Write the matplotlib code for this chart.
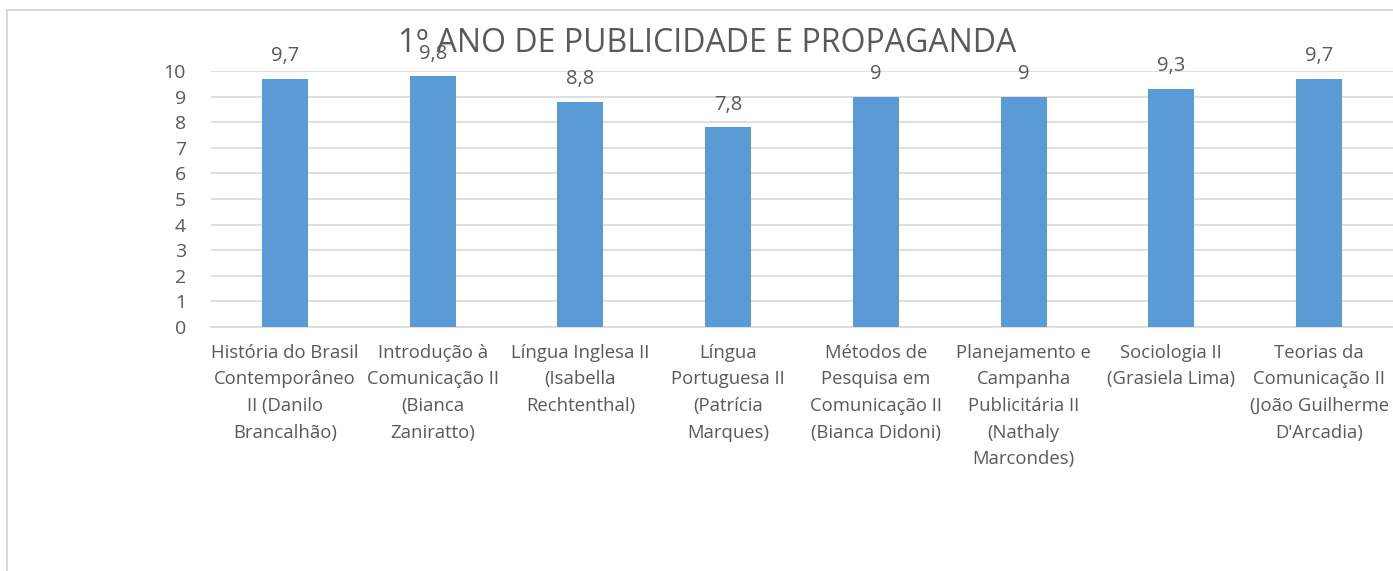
import numpy as np
import matplotlib.pyplot as plt
from matplotlib.patches import Rectangle

plt.rcParams['font.family'] = ['Open Sans', 'DejaVu Sans']

disciplinas = [
    'História do Brasil\nContemporâneo\nII (Danilo\nBrancalhão)',
    'Introdução à\nComunicação II\n(Bianca\nZaniratto)',
    'Língua Inglesa II\n(Isabella\nRechtenthal)',
    'Língua\nPortuguesa II\n(Patrícia\nMarques)',
    'Métodos de\nPesquisa em\nComunicação II\n(Bianca Didoni)',
    'Planejamento e\nCampanha\nPublicitária II\n(Nathaly\nMarcondes)',
    'Sociologia II\n(Grasiela Lima)',
    'Teorias da\nComunicação II\n(João Guilherme\nD\'Arcadia)',
]
notas = [9.7, 9.8, 8.8, 7.8, 9, 9, 9.3, 9.7]
rotulos = ['9,7', '9,8', '8,8', '7,8', '9', '9', '9,3', '9,7']

cinza = '#595959'
fig = plt.figure(figsize=(13.93, 5.71), dpi=100)
ax = fig.add_axes([211 / 1393, 1 - 327 / 571, (1393 - 211) / 1393, (327 - 71) / 571])

x = np.arange(len(notas))
ax.bar(x, notas, width=0.31, color='#5B9BD5', zorder=3)
for xi, v, t in zip(x, notas, rotulos):
    ax.annotate(t, (xi, v), xytext=(0, 9), textcoords='offset points',
                ha='center', va='bottom', fontsize=14.5, color=cinza)

ax.set_xlim(-0.5, len(notas) - 0.5)
ax.set_ylim(0, 10)
ax.set_yticks(range(0, 11))
ax.yaxis.grid(True, color='#D9D9D9', linewidth=1.2, zorder=0)
ax.set_xticks(x)
ax.set_xticklabels(disciplinas, fontsize=13.3, color=cinza, linespacing=1.62)
ax.tick_params(axis='x', length=0, pad=12)
ax.tick_params(axis='y', length=0, pad=18, labelsize=14, labelcolor=cinza)
for s in ['top', 'right', 'left']:
    ax.spines[s].set_visible(False)
ax.spines['bottom'].set_color('#D9D9D9')
ax.spines['bottom'].set_linewidth(1.2)

# title overlaps the 9,8 label in the original too
fig.text(707 / 1393, 1 - 43 / 571, '1º ANO DE PUBLICIDADE E PROPAGANDA',
         ha='center', va='center', fontsize=23, color=cinza)

fig.patches.append(Rectangle((7 / 1393, -0.1), 1.2, 1 - 10 / 571 + 0.1,
                             transform=fig.transFigure, fill=False,
                             edgecolor='#D9D9D9', linewidth=1.5))

fig.savefig('out.png', dpi=100)
